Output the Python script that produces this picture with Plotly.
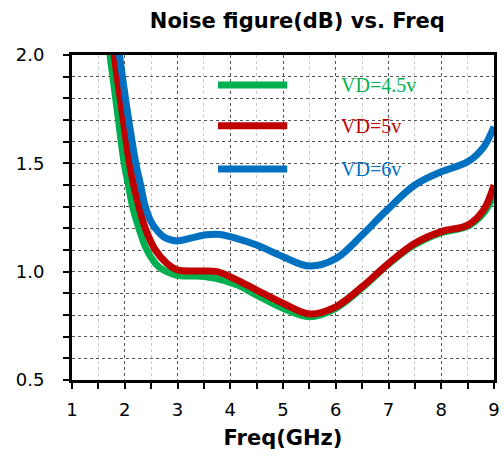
import plotly.graph_objects as go

# ---- data ----
freq_45 = [1.68, 1.72, 1.86, 1.99, 2.07, 2.15, 2.27, 2.42, 2.64, 2.9, 3.1, 3.35, 3.7, 4.14, 4.5, 5.0, 5.5, 6.0, 6.5, 7.0, 7.5, 8.0, 8.5, 8.8, 9.0]
nf_45 = [2.07, 2.0, 1.74, 1.5, 1.4, 1.3, 1.2, 1.1, 1.023, 0.99, 0.98, 0.98, 0.97, 0.938, 0.892, 0.831, 0.792, 0.831, 0.925, 1.035, 1.125, 1.18, 1.21, 1.27, 1.355]

freq_5 = [1.77, 1.8, 1.95, 2.09, 2.17, 2.27, 2.39, 2.58, 2.8, 3.0, 3.4, 3.75, 4.14, 4.5, 5.0, 5.5, 6.0, 6.5, 7.0, 7.5, 8.0, 8.5, 8.8, 9.0]
nf_5 = [2.07, 2.0, 1.74, 1.5, 1.4, 1.3, 1.2, 1.1, 1.038, 1.008, 1.003, 1.0, 0.96, 0.915, 0.854, 0.805, 0.838, 0.93, 1.038, 1.131, 1.185, 1.215, 1.284, 1.4]

freq_6 = [1.86, 1.9, 2.05, 2.21, 2.3, 2.39, 2.48, 2.58, 2.74, 2.98, 3.25, 3.55, 3.8, 4.1, 4.5, 5.0, 5.5, 6.0, 6.5, 6.94, 7.5, 8.0, 8.5, 8.8, 9.0]
nf_6 = [2.07, 2.0, 1.74, 1.5, 1.4, 1.3, 1.24, 1.2, 1.16, 1.142, 1.155, 1.17, 1.172, 1.155, 1.123, 1.069, 1.026, 1.06, 1.169, 1.277, 1.4, 1.461, 1.507, 1.574, 1.669]

series_names = ["VD=4.5v", "VD=5v", "VD=6v"]
series_colors = ["#00B050", "#C00000", "#0070C0"]
x_ticks = [1, 2, 3, 4, 5, 6, 7, 8, 9]
y_ticks = [0.5, 1.0, 1.5, 2.0]
y_tick_text = ["0.5", "1.0", "1.5", "2.0"]

fig = go.Figure()
for fx, fy, name, col in zip([freq_45, freq_5, freq_6], [nf_45, nf_5, nf_6], series_names, series_colors):
    fig.add_trace(go.Scatter(x=fx, y=fy, mode="lines", name=name,
                             line=dict(color=col, width=7, shape="spline", smoothing=1.0),
                             showlegend=False))

# custom legend (key lines + labels), positioned in paper coordinates
legend_y = [0.908, 0.782, 0.649]
for name, col, ly in zip(series_names, series_colors, legend_y):
    fig.add_shape(type="line", xref="paper", yref="paper", x0=0.346, x1=0.51, y0=ly, y1=ly,
                  line=dict(color=col, width=7))
    fig.add_annotation(xref="paper", yref="paper", x=0.632, y=ly, text=name, showarrow=False,
                       xanchor="left", yanchor="middle",
                       font=dict(family="Liberation Serif", size=20, color=col))

grid_dark = "#555555"
fig.update_layout(
    width=504, height=461,
    margin=dict(l=72, r=4, t=55, b=81),
    paper_bgcolor="white", plot_bgcolor="white",
    title=dict(text="<b>Noise figure(dB) vs. Freq</b>", x=0.59, xanchor="center", y=0.955, yanchor="middle",
               font=dict(family="DejaVu Sans", size=21, color="black")),
    font=dict(family="DejaVu Sans", size=18, color="black"),
)
fig.update_xaxes(
    range=[1, 9], tickvals=x_ticks, ticks="outside", ticklen=6, tickwidth=2, tickcolor="black",
    showline=True, linecolor="black", linewidth=3, mirror=True,
    showgrid=True, gridcolor=grid_dark, griddash="dot", gridwidth=1,
    minor=dict(dtick=0.5, ticks="outside", ticklen=6, tickwidth=2, tickcolor="black",
               showgrid=True, gridcolor="#c8c8c8", griddash="dot", gridwidth=1),
    ticklabelstandoff=5, zeroline=False,
    title=dict(text="<b>Freq(GHz)</b>", font=dict(family="DejaVu Sans", size=21), standoff=12),
)
fig.update_yaxes(
    range=[0.5, 2.0], tickvals=y_ticks, ticktext=y_tick_text, ticks="outside", ticklen=6, tickwidth=2,
    tickcolor="black",
    showline=True, linecolor="black", linewidth=3, mirror=True,
    showgrid=True, gridcolor=grid_dark, griddash="dot", gridwidth=1,
    minor=dict(dtick=0.1, ticks="outside", ticklen=6, tickwidth=2, tickcolor="black",
               showgrid=True, gridcolor=grid_dark, griddash="dot", gridwidth=1),
    ticklabelstandoff=15, zeroline=False,
)

fig.write_html("out.html")
